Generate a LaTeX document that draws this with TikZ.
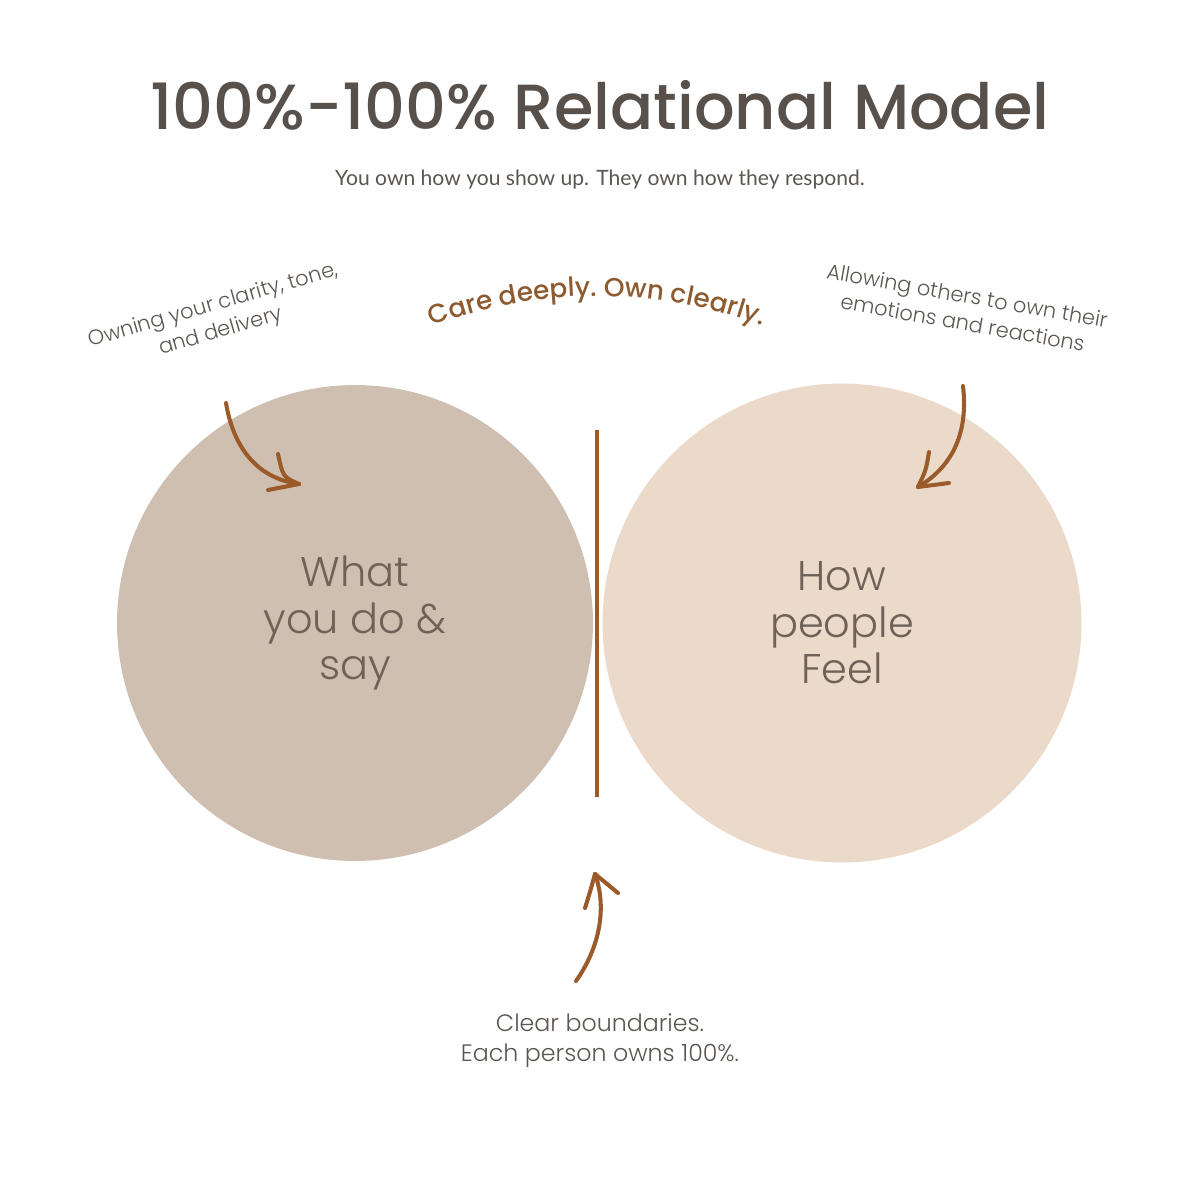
\documentclass[tikz,border=0pt]{standalone}
\usepackage{fontspec}
\setmainfont{Poppins}
\newfontfamily\poplight{Poppins}[UprightFont={* Light}]
\newfontfamily\popmed{Poppins}[UprightFont={* Medium}]
\newfontfamily\latofont{Lato}
\usetikzlibrary{decorations.text}
\definecolor{titlegray}{HTML}{58504A}
\definecolor{textgray}{HTML}{5C5652}
\definecolor{circtext}{HTML}{6E6157}
\definecolor{leftfill}{HTML}{CFBFB1}
\definecolor{rightfill}{HTML}{EBDACA}
\definecolor{brownc}{HTML}{9A5A2A}
\definecolor{curvetext}{HTML}{8E5A30}
\tikzset{
  bigcircle/.style={circle, inner sep=0pt, draw=none, align=center, text=circtext,
     font=\poplight\fontsize{23.6}{26.5}\selectfont},
  handarrow/.style={draw=brownc, line width=2.3pt, line cap=round, line join=round},
  divider/.style={draw=brownc, line width=1.8pt},
  smallnote/.style={align=center, text=textgray, font=\poplight\fontsize{11.9}{15.5}\selectfont}
}
\begin{document}
\begin{tikzpicture}[x=0.02cm,y=0.02cm]
\fill[white] (0,0) rectangle (1200,-1200);
\useasboundingbox (0,0) rectangle (1200,-1200);

\node[font=\popmed\fontsize{36.3}{40}\selectfont, text=titlegray] (title) at (600,-105) {100\%-100\% Relational Model};
\node[font=\latofont\fontsize{12}{14}\selectfont, text=textgray] (subtitle) at (600,-180) {You own how you show up. They own how they respond.};

\node[bigcircle, fill=leftfill, minimum size=9.52cm] (left) at (355,-623) {What\\you do \&\\say};
\node[bigcircle, fill=rightfill, minimum size=9.58cm] (right) at (842,-623) {How\\people\\Feel};

\coordinate (dtop) at (597,-430);
\coordinate (dbot) at (597,-797);
\draw[divider] (dtop) -- (dbot);

\path[decorate, decoration={text along path, text format delimiters={|}{|},
  text={|\popmed\fontsize{15}{18}\selectfont|Care deeply. Own clearly.},
  text color=curvetext, text align=center}]
  (597,-765) ++(111:9.38cm) arc[start angle=111, end angle=69, radius=9.38cm];

\node[smallnote, rotate=16] (lnote) at (217,-319) {Owning your clarity, tone,\\and delivery};
\node[smallnote, rotate=-10] (rnote) at (965,-309) {Allowing others to own their\\emotions and reactions};
\node[align=center, text=textgray, font=\poplight\fontsize{13.5}{17}\selectfont] (bnote) at (600,-1041) {Clear boundaries.\\Each person owns 100\%.};

% left arrow
\coordinate (la0) at (226,-403);
\coordinate (la1) at (299,-484);
\coordinate (lb1) at (278,-454);
\coordinate (lb2) at (268,-490);
\draw[handarrow] (la0) .. controls (233,-445) and (255,-478) .. (la1);
\draw[handarrow] (la1) .. controls (283,-477) .. (lb1);
\draw[handarrow] (la1) -- (lb2);

% right arrow
\coordinate (ra0) at (963,-386);
\coordinate (ra1) at (918,-487);
\coordinate (rb1) at (929,-452);
\coordinate (rb2) at (949,-483);
\draw[handarrow] (ra0) .. controls (968,-430) and (955,-465) .. (ra1);
\draw[handarrow] (ra1) .. controls (926,-470) .. (rb1);
\draw[handarrow] (ra1) -- (rb2);

% bottom arrow
\coordinate (ba0) at (576,-981);
\coordinate (ba1) at (595,-874);
\coordinate (bb1) at (585,-908);
\coordinate (bb2) at (618,-893);
\draw[handarrow] (ba0) .. controls (598,-950) and (608,-910) .. (ba1);
\draw[handarrow] (ba1) .. controls (590,-892) .. (bb1);
\draw[handarrow] (ba1) -- (bb2);
\end{tikzpicture}
\end{document}
